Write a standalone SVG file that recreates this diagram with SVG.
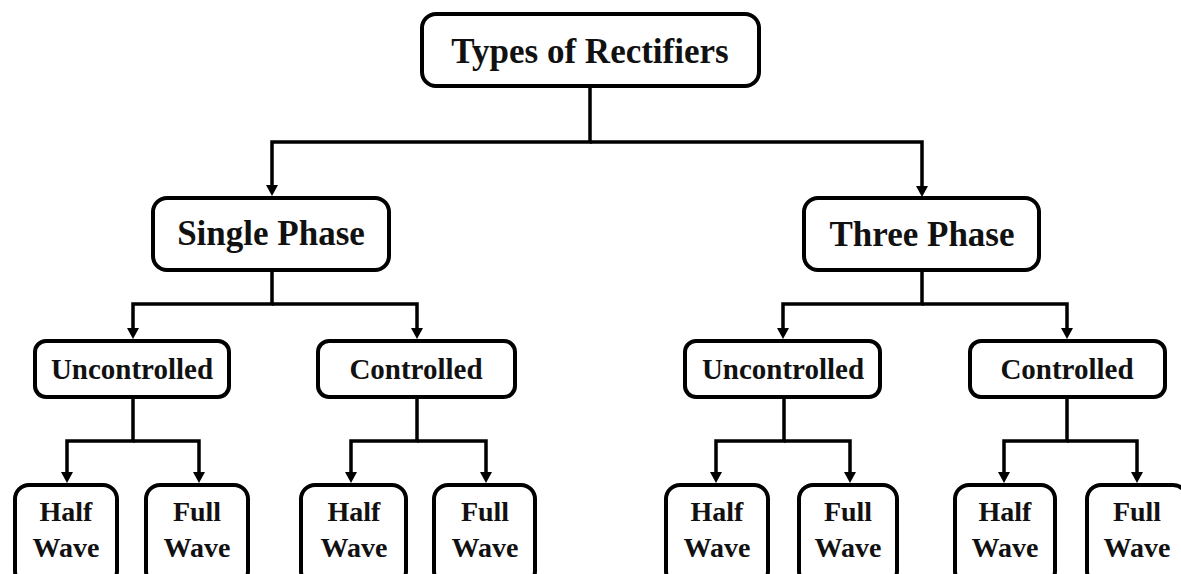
<svg xmlns="http://www.w3.org/2000/svg" width="1181" height="574" viewBox="0 0 1181 574">
<style>
.box{fill:#fff;stroke:#000;stroke-width:4}
.t{font-family:"Liberation Serif","Times New Roman",serif;font-weight:bold;fill:#111;text-anchor:middle}
.big{font-size:35px}
.mid{font-size:29px}
.sm{font-size:28px}
.c{fill:none;stroke:#000;stroke-width:3.5;marker-end:url(#ah)}
</style>
<defs>
<marker id="ah" markerUnits="userSpaceOnUse" markerWidth="12" markerHeight="12" refX="0" refY="6" orient="auto" overflow="visible">
<path d="M0,0 L11,6 L0,12 z" fill="#000"/>
</marker>
</defs>
<rect width="1181" height="574" fill="#fff"/>
<g id="connectors">
<path class="c" d="M590 88 V142 H272 V185"/>
<path class="c" d="M590 142 H922 V186"/>
<path class="c" d="M272 272 V304 H133 V328"/>
<path class="c" d="M272 304 H417 V328"/>
<path class="c" d="M922 271 V304 H783 V328"/>
<path class="c" d="M922 304 H1067 V328"/>
<path class="c" d="M133 399 V441 H67 V472"/>
<path class="c" d="M133 441 H199 V472"/>
<path class="c" d="M417 399 V441 H351 V472"/>
<path class="c" d="M417 441 H486 V472"/>
<path class="c" d="M784 399 V441 H716 V472"/>
<path class="c" d="M784 441 H850 V472"/>
<path class="c" d="M1067 399 V441 H1004 V472"/>
<path class="c" d="M1067 441 H1137 V472"/>
</g>
<g id="root"><rect class="box" x="422" y="14" width="337" height="72" rx="14"/><text class="t big" x="590" y="63">Types of Rectifiers</text></g>
<g id="single"><rect class="box" x="153" y="198" width="236" height="72" rx="14"/><text class="t big" x="271" y="245">Single Phase</text></g>
<g id="three"><rect class="box" x="804" y="198" width="235" height="72" rx="14"/><text class="t big" x="922" y="246">Three Phase</text></g>
<g id="s-unc"><rect class="box" x="35" y="341" width="194" height="56" rx="11"/><text class="t mid" x="132" y="379">Uncontrolled</text></g>
<g id="s-con"><rect class="box" x="318" y="341" width="197" height="56" rx="11"/><text class="t mid" x="416" y="379">Controlled</text></g>
<g id="t-unc"><rect class="box" x="685" y="341" width="195" height="56" rx="11"/><text class="t mid" x="783" y="379">Uncontrolled</text></g>
<g id="t-con"><rect class="box" x="970" y="341" width="195" height="56" rx="11"/><text class="t mid" x="1067" y="379">Controlled</text></g>
<g id="su-half"><rect class="box" x="15" y="485" width="102" height="100" rx="14"/><text class="t sm" x="66" y="521">Half</text><text class="t sm" x="66" y="557">Wave</text></g>
<g id="su-full"><rect class="box" x="146" y="485" width="102" height="100" rx="14"/><text class="t sm" x="197" y="521">Full</text><text class="t sm" x="197" y="557">Wave</text></g>
<g id="sc-half"><rect class="box" x="301" y="485" width="105" height="100" rx="14"/><text class="t sm" x="354" y="521">Half</text><text class="t sm" x="354" y="557">Wave</text></g>
<g id="sc-full"><rect class="box" x="434" y="485" width="101" height="100" rx="14"/><text class="t sm" x="485" y="521">Full</text><text class="t sm" x="485" y="557">Wave</text></g>
<g id="tu-half"><rect class="box" x="666" y="485" width="102" height="100" rx="14"/><text class="t sm" x="717" y="521">Half</text><text class="t sm" x="717" y="557">Wave</text></g>
<g id="tu-full"><rect class="box" x="799" y="485" width="98" height="100" rx="14"/><text class="t sm" x="848" y="521">Full</text><text class="t sm" x="848" y="557">Wave</text></g>
<g id="tc-half"><rect class="box" x="955" y="485" width="100" height="100" rx="14"/><text class="t sm" x="1005" y="521">Half</text><text class="t sm" x="1005" y="557">Wave</text></g>
<g id="tc-full"><rect class="box" x="1087" y="485" width="100" height="100" rx="14"/><text class="t sm" x="1137" y="521">Full</text><text class="t sm" x="1137" y="557">Wave</text></g>
</svg>
